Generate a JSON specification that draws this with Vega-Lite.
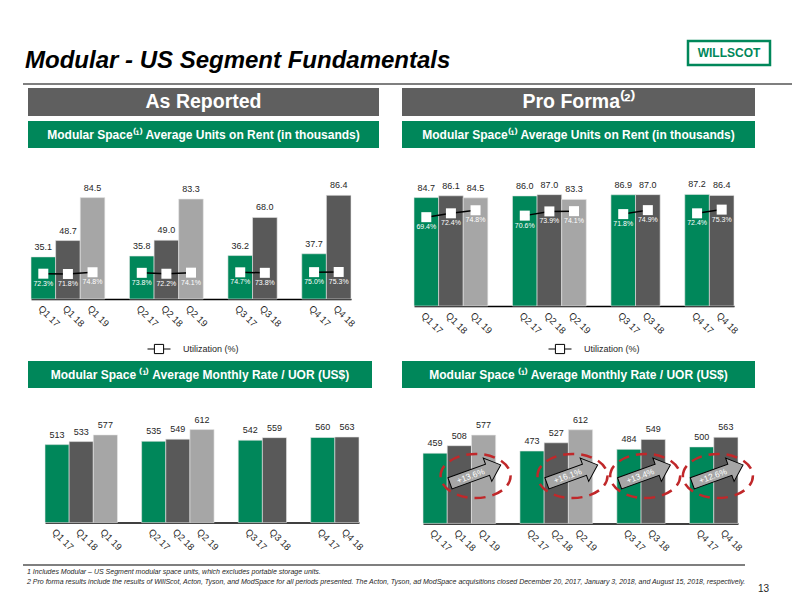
{
  "$schema": "https://vega.github.io/schema/vega-lite/v6.json",
  "background": "white",
  "padding": {"left": 23, "top": 39, "right": 0, "bottom": 0},
  "spacing": 8,
  "resolve": {"scale": {"fill": "independent"}, "legend": {"fill": "independent"}},
  "vconcat": [
    {
      "hconcat": [
        {
          "width": 663, "height": 34,
          "data": {"values": [{"t": "Modular - US Segment Fundamentals"}]},
          "mark": {"type": "text", "align": "left", "baseline": "alphabetic", "dy": 10, "dx": 2, "fontSize": 24, "fontWeight": "bold", "fontStyle": "italic", "color": "black"},
          "encoding": {
            "text": {"field": "t", "type": "nominal"},
            "x": {"datum": 0, "type": "quantitative", "scale": {"domain": [0, 1]}, "axis": null}
          }
        },
        {
          "width": 82, "height": 24,
          "view": {"fill": "white", "stroke": "#00875a", "strokeWidth": 2.5},
          "data": {"values": [{"t": "WILLSCOT"}]},
          "mark": {"type": "text", "fontSize": 12, "fontWeight": "bold", "color": "#00875a", "baseline": "middle"},
          "encoding": {"text": {"field": "t", "type": "nominal"}}
        }
      ],
      "spacing": 0
    },
    {
      "resolve": {"scale": {"fill": "independent"}, "legend": {"fill": "independent"}},
      "vconcat": [
        {
          "width": 769, "height": 2,
          "view": {"fill": "#7f7f7f", "stroke": null},
          "data": {"values": [{}]},
          "mark": {"type": "rect", "opacity": 0}
        },
        {
          "resolve": {"scale": {"fill": "independent"}, "legend": {"fill": "independent"}},
          "vconcat": [
            {
              "resolve": {"scale": {"fill": "independent"}, "legend": {"fill": "independent"}},
              "hconcat": [
                {
                  "width": 4, "height": 2,
                  "data": {"values": [{}]},
                  "mark": {"type": "rect", "opacity": 0}
                },
                {
                  "resolve": {"scale": {"fill": "independent"}, "legend": {"fill": "independent"}},
                  "hconcat": [
                    {
                      "resolve": {"scale": {"fill": "independent"}, "legend": {"fill": "independent"}},
                      "vconcat": [
                        {
                          "width": 351, "height": 28,
                          "view": {"fill": "#5f5f5f", "stroke": null},
                          "data": {"values": [{"t": "As Reported"}]},
                          "mark": {"type": "text", "color": "white", "fontWeight": "bold", "fontSize": 19.5, "baseline": "middle"},
                          "encoding": {"text": {"field": "t", "type": "nominal"}}
                        },
                        {
                          "resolve": {"scale": {"fill": "independent"}, "legend": {"fill": "independent"}},
                          "vconcat": [
                            {
                              "width": 351, "height": 27,
                              "view": {"fill": "#00875a", "stroke": null},
                              "data": {"values": [{"t": "Modular Space⁽¹⁾ Average Units on Rent (in thousands)"}]},
                              "mark": {"type": "text", "color": "white", "fontWeight": "bold", "fontSize": 12, "baseline": "middle"},
                              "encoding": {"text": {"field": "t", "type": "nominal"}}
                            },
                            {
                              "resolve": {"scale": {"fill": "independent"}, "legend": {"fill": "independent"}},
                              "vconcat": [
                                {
                                  "width": 351, "height": 120,
                                  "data": {"values": [
                                    {"slot": "Q1 17", "q": "Q1", "yr": "17", "units": 35.1, "util": 0.723},
                                    {"slot": "Q1 18", "q": "Q1", "yr": "18", "units": 48.7, "util": 0.718},
                                    {"slot": "Q1 19", "q": "Q1", "yr": "19", "units": 84.5, "util": 0.748},
                                    {"slot": "Q2 17", "q": "Q2", "yr": "17", "units": 35.8, "util": 0.738},
                                    {"slot": "Q2 18", "q": "Q2", "yr": "18", "units": 49.0, "util": 0.722},
                                    {"slot": "Q2 19", "q": "Q2", "yr": "19", "units": 83.3, "util": 0.741},
                                    {"slot": "Q3 17", "q": "Q3", "yr": "17", "units": 36.2, "util": 0.747},
                                    {"slot": "Q3 18", "q": "Q3", "yr": "18", "units": 68.0, "util": 0.738},
                                    {"slot": "Q4 17", "q": "Q4", "yr": "17", "units": 37.7, "util": 0.750},
                                    {"slot": "Q4 18", "q": "Q4", "yr": "18", "units": 86.4, "util": 0.753}
                                  ]},
                                  "encoding": {
                                    "x": {"field": "slot", "type": "nominal",
                                      "scale": {"type": "band", "domain": ["Q1 17","Q1 18","Q1 19","gap1","Q2 17","Q2 18","Q2 19","gap2","Q3 17","Q3 18","gap3","Q4 17","Q4 18"], "range": [3, 323], "paddingInner": 0, "paddingOuter": 0},
                                      "axis": {"title": null, "labelExpr": "indexof(datum.label, 'gap') == 0 ? '' : datum.label"}}
                                  },
                                  "layer": [
                                    {
                                      "mark": {"type": "bar", "stroke": "#e8e8e8", "strokeWidth": 0.6},
                                      "encoding": {
                                        "y": {"field": "units", "type": "quantitative", "scale": {"domain": [0, 100]}, "axis": null},
                                        "color": {"field": "yr", "type": "nominal", "scale": {"domain": ["17", "18", "19"], "range": ["#00875a", "#595959", "#a6a6a6"]}, "legend": null}
                                      }
                                    },
                                    {
                                      "mark": {"type": "text", "baseline": "middle", "dy": -10, "fontSize": 9, "color": "#262626"},
                                      "encoding": {
                                        "y": {"field": "units", "type": "quantitative", "scale": {"domain": [0, 100]}, "axis": null},
                                        "text": {"field": "units", "type": "quantitative", "format": ".1f"}
                                      }
                                    },
                                    {
                                      "layer": [
                                        {
                                          "mark": {"type": "line", "color": "black", "strokeWidth": 1.5},
                                          "encoding": {
                                            "y": {"field": "util", "type": "quantitative", "scale": {"domain": [0.28, 2.38], "zero": false}, "axis": null},
                                            "detail": {"field": "q", "type": "nominal"}
                                          }
                                        },
                                        {
                                          "mark": {"type": "point", "shape": "square", "size": 100, "filled": true, "opacity": 1},
                                          "encoding": {
                                            "y": {"field": "util", "type": "quantitative", "scale": {"domain": [0.28, 2.38], "zero": false}, "axis": null},
                                            "fill": {"datum": "Utilization (%)", "type": "nominal", "scale": {"range": ["white"]},
                                              "legend": {"title": null, "orient": "none", "legendX": 119, "legendY": 158, "symbolType": "M-1,0H-0.4M0.4,0H1M-0.4,-0.4H0.4V0.4H-0.4Z", "symbolSize": 529, "symbolStrokeColor": "black", "symbolStrokeWidth": 1, "labelFontSize": 9, "labelColor": "#262626", "labelOffset": 12}}
                                          }
                                        },
                                        {
                                          "mark": {"type": "text", "baseline": "middle", "dy": 10, "fontSize": 7, "color": "white"},
                                          "encoding": {
                                            "y": {"field": "util", "type": "quantitative", "scale": {"domain": [0.28, 2.38], "zero": false}, "axis": null},
                                            "text": {"field": "util", "type": "quantitative", "format": ".1%"}
                                          }
                                        }
                                      ]
                                    }
                                  ],
                                  "resolve": {"scale": {"y": "independent"}}
                                },
                                {
                                  "vconcat": [
                                    {
                                      "width": 344, "height": 27,
                                      "view": {"fill": "#00875a", "stroke": null},
                                      "data": {"values": [{"t": "Modular Space ⁽¹⁾ Average Monthly Rate / UOR (US$)"}]},
                                      "mark": {"type": "text", "color": "white", "fontWeight": "bold", "fontSize": 12, "baseline": "middle"},
                                      "encoding": {"text": {"field": "t", "type": "nominal"}}
                                    },
                                    {
                                      "width": 351, "height": 121.6,
                                      "data": {"values": [
                                        {"slot": "Q1 17", "yr": "17", "rate": 513},
                                        {"slot": "Q1 18", "yr": "18", "rate": 533},
                                        {"slot": "Q1 19", "yr": "19", "rate": 577},
                                        {"slot": "Q2 17", "yr": "17", "rate": 535},
                                        {"slot": "Q2 18", "yr": "18", "rate": 549},
                                        {"slot": "Q2 19", "yr": "19", "rate": 612},
                                        {"slot": "Q3 17", "yr": "17", "rate": 542},
                                        {"slot": "Q3 18", "yr": "18", "rate": 559},
                                        {"slot": "Q4 17", "yr": "17", "rate": 560},
                                        {"slot": "Q4 18", "yr": "18", "rate": 563}
                                      ]},
                                      "encoding": {
                                        "x": {"field": "slot", "type": "nominal",
                                          "scale": {"type": "band", "domain": ["Q1 17","Q1 18","Q1 19","gap1","Q2 17","Q2 18","Q2 19","gap2","Q3 17","Q3 18","gap3","Q4 17","Q4 18"], "range": [17, 331], "paddingInner": 0, "paddingOuter": 0},
                                          "axis": {"title": null, "labelExpr": "indexof(datum.label, 'gap') == 0 ? '' : datum.label"}},
                                        "y": {"field": "rate", "type": "quantitative", "scale": {"domain": [0, 800]}, "axis": null}
                                      },
                                      "layer": [
                                        {
                                          "mark": {"type": "bar", "stroke": "#e8e8e8", "strokeWidth": 0.6},
                                          "encoding": {
                                            "color": {"field": "yr", "type": "nominal", "scale": {"domain": ["17", "18", "19"], "range": ["#00875a", "#595959", "#a6a6a6"]}, "legend": null}
                                          }
                                        },
                                        {
                                          "mark": {"type": "text", "baseline": "middle", "dy": -10, "fontSize": 9, "color": "#262626"},
                                          "encoding": {"text": {"field": "rate", "type": "quantitative", "format": "d"}}
                                        }
                                      ]
                                    }
                                  ],
                                  "spacing": 13
                                }
                              ],
                              "spacing": 5
                            }
                          ],
                          "spacing": 31
                        }
                      ],
                      "spacing": 5
                    },
                    {
                      "resolve": {"scale": {"fill": "independent"}, "legend": {"fill": "independent"}},
                      "vconcat": [
                        {
                          "width": 353, "height": 28,
                          "view": {"fill": "#5f5f5f", "stroke": null},
                          "data": {"values": [{"t": "Pro Forma⁽²⁾"}]},
                          "mark": {"type": "text", "color": "white", "fontWeight": "bold", "fontSize": 19.5, "baseline": "middle"},
                          "encoding": {"text": {"field": "t", "type": "nominal"}}
                        },
                        {
                          "resolve": {"scale": {"fill": "independent"}, "legend": {"fill": "independent"}},
                          "vconcat": [
                            {
                              "width": 353, "height": 27,
                              "view": {"fill": "#00875a", "stroke": null},
                              "data": {"values": [{"t": "Modular Space⁽¹⁾ Average Units on Rent (in thousands)"}]},
                              "mark": {"type": "text", "color": "white", "fontWeight": "bold", "fontSize": 12, "baseline": "middle"},
                              "encoding": {"text": {"field": "t", "type": "nominal"}}
                            },
                            {
                              "resolve": {"scale": {"fill": "independent"}, "legend": {"fill": "independent"}},
                              "vconcat": [
                                {
                                  "width": 353, "height": 128,
                                  "data": {"values": [
                                    {"slot": "Q1 17", "q": "Q1", "yr": "17", "units": 84.7, "util": 0.694},
                                    {"slot": "Q1 18", "q": "Q1", "yr": "18", "units": 86.1, "util": 0.724},
                                    {"slot": "Q1 19", "q": "Q1", "yr": "19", "units": 84.5, "util": 0.748},
                                    {"slot": "Q2 17", "q": "Q2", "yr": "17", "units": 86.0, "util": 0.706},
                                    {"slot": "Q2 18", "q": "Q2", "yr": "18", "units": 87.0, "util": 0.739},
                                    {"slot": "Q2 19", "q": "Q2", "yr": "19", "units": 83.3, "util": 0.741},
                                    {"slot": "Q3 17", "q": "Q3", "yr": "17", "units": 86.9, "util": 0.718},
                                    {"slot": "Q3 18", "q": "Q3", "yr": "18", "units": 87.0, "util": 0.749},
                                    {"slot": "Q4 17", "q": "Q4", "yr": "17", "units": 87.2, "util": 0.724},
                                    {"slot": "Q4 18", "q": "Q4", "yr": "18", "units": 86.4, "util": 0.753}
                                  ]},
                                  "encoding": {
                                    "x": {"field": "slot", "type": "nominal",
                                      "scale": {"type": "band", "domain": ["Q1 17","Q1 18","Q1 19","gap1","Q2 17","Q2 18","Q2 19","gap2","Q3 17","Q3 18","gap3","Q4 17","Q4 18"], "range": [12, 332], "paddingInner": 0, "paddingOuter": 0},
                                      "axis": {"title": null, "labelExpr": "indexof(datum.label, 'gap') == 0 ? '' : datum.label"}}
                                  },
                                  "layer": [
                                    {
                                      "mark": {"type": "bar", "stroke": "#e8e8e8", "strokeWidth": 0.6},
                                      "encoding": {
                                        "y": {"field": "units", "type": "quantitative", "scale": {"domain": [0, 100]}, "axis": null},
                                        "color": {"field": "yr", "type": "nominal", "scale": {"domain": ["17", "18", "19"], "range": ["#00875a", "#595959", "#a6a6a6"]}, "legend": null}
                                      }
                                    },
                                    {
                                      "mark": {"type": "text", "baseline": "middle", "dy": -10, "fontSize": 9, "color": "#262626"},
                                      "encoding": {
                                        "y": {"field": "units", "type": "quantitative", "scale": {"domain": [0, 100]}, "axis": null},
                                        "text": {"field": "units", "type": "quantitative", "format": ".1f"}
                                      }
                                    },
                                    {
                                      "layer": [
                                        {
                                          "mark": {"type": "line", "color": "black", "strokeWidth": 1.5},
                                          "encoding": {
                                            "y": {"field": "util", "type": "quantitative", "scale": {"domain": [0, 1]}, "axis": null},
                                            "detail": {"field": "q", "type": "nominal"}
                                          }
                                        },
                                        {
                                          "mark": {"type": "point", "shape": "square", "size": 100, "filled": true, "opacity": 1},
                                          "encoding": {
                                            "y": {"field": "util", "type": "quantitative", "scale": {"domain": [0, 1]}, "axis": null},
                                            "fill": {"datum": "Utilization (%)", "type": "nominal", "scale": {"range": ["white"]},
                                              "legend": {"title": null, "orient": "none", "legendX": 146, "legendY": 159, "symbolType": "M-1,0H-0.4M0.4,0H1M-0.4,-0.4H0.4V0.4H-0.4Z", "symbolSize": 529, "symbolStrokeColor": "black", "symbolStrokeWidth": 1, "labelFontSize": 9, "labelColor": "#262626", "labelOffset": 12}}
                                          }
                                        },
                                        {
                                          "mark": {"type": "text", "baseline": "middle", "dy": 10, "fontSize": 7, "color": "white"},
                                          "encoding": {
                                            "y": {"field": "util", "type": "quantitative", "scale": {"domain": [0, 1]}, "axis": null},
                                            "text": {"field": "util", "type": "quantitative", "format": ".1%"}
                                          }
                                        }
                                      ]
                                    }
                                  ],
                                  "resolve": {"scale": {"y": "independent"}}
                                },
                                {
                                  "vconcat": [
                                    {
                                      "width": 353, "height": 27,
                                      "view": {"fill": "#00875a", "stroke": null},
                                      "data": {"values": [{"t": "Modular Space ⁽¹⁾ Average Monthly Rate / UOR (US$)"}]},
                                      "mark": {"type": "text", "color": "white", "fontWeight": "bold", "fontSize": 12, "baseline": "middle"},
                                      "encoding": {"text": {"field": "t", "type": "nominal"}}
                                    },
                                    {
                                      "width": 353, "height": 122.4,
                                      "encoding": {
                                        "x": {"field": "slot", "type": "nominal",
                                          "scale": {"type": "band", "domain": ["Q1 17","Q1 18","Q1 19","gap1","Q2 17","Q2 18","Q2 19","gap2","Q3 17","Q3 18","gap3","Q4 17","Q4 18"], "range": [21, 336], "paddingInner": 0, "paddingOuter": 0},
                                          "axis": {"title": null, "labelExpr": "indexof(datum.label, 'gap') == 0 ? '' : datum.label"}}
                                      },
                                      "layer": [
                                        {
                                          "data": {"name": "rateR"},
                                          "mark": {"type": "bar", "stroke": "#e8e8e8", "strokeWidth": 0.6},
                                          "encoding": {
                                            "y": {"field": "rate", "type": "quantitative", "scale": {"domain": [0, 800]}, "axis": null},
                                            "color": {"field": "yr", "type": "nominal", "scale": {"domain": ["17", "18", "19"], "range": ["#00875a", "#595959", "#a6a6a6"]}, "legend": null}
                                          }
                                        },
                                        {
                                          "data": {"name": "rateR"},
                                          "mark": {"type": "text", "baseline": "middle", "dy": -10, "fontSize": 9, "color": "#262626"},
                                          "encoding": {
                                            "y": {"field": "rate", "type": "quantitative", "scale": {"domain": [0, 800]}, "axis": null},
                                            "text": {"field": "rate", "type": "quantitative", "format": "d"}
                                          }
                                        },
                                        {
                                          "data": {"name": "growth"},
                                          "mark": {"type": "point", "shape": "M-1,0C-1,-0.348 -0.552,-0.63 0,-0.63C0.552,-0.63 1,-0.348 1,0C1,0.348 0.552,0.63 0,0.63C-0.552,0.63 -1,0.348 -1,0Z", "size": 4900, "filled": false, "stroke": "#c0282a", "strokeWidth": 2.5, "strokeDash": [11, 7], "opacity": 1},
                                          "encoding": {
                                            "x": {"field": "slot", "type": "nominal", "bandPosition": 0.17},
                                            "y": {"datum": 310, "type": "quantitative"}
                                          }
                                        },
                                        {
                                          "data": {"name": "growth"},
                                          "mark": {"type": "point", "shape": "M-1,-0.22L0.48,-0.22L0.48,-0.46L1,0L0.48,0.46L0.48,0.22L-1,0.22Z", "size": 2916, "filled": true, "fill": "#a6a6a6", "stroke": "black", "strokeWidth": 1, "angle": -20, "opacity": 1},
                                          "encoding": {
                                            "x": {"field": "slot", "type": "nominal", "bandPosition": 0.16},
                                            "y": {"datum": 322, "type": "quantitative"}
                                          }
                                        },
                                        {
                                          "data": {"name": "growth"},
                                          "mark": {"type": "text", "angle": -20, "color": "white", "fontSize": 8.5, "dx": -5, "baseline": "middle"},
                                          "encoding": {
                                            "x": {"field": "slot", "type": "nominal", "bandPosition": 0.16},
                                            "y": {"datum": 322, "type": "quantitative"},
                                            "text": {"field": "pct", "type": "nominal"}
                                          }
                                        }
                                      ]
                                    }
                                  ],
                                  "spacing": 13
                                }
                              ],
                              "spacing": 5
                            }
                          ],
                          "spacing": 30
                        }
                      ],
                      "spacing": 5
                    }
                  ],
                  "spacing": 23
                }
              ],
              "spacing": 1
            },
            {
              "hconcat": [
                {
                  "width": 722, "height": 2,
                  "view": {"fill": "#7f7f7f", "stroke": null},
                  "data": {"values": [{}]},
                  "mark": {"type": "rect", "opacity": 0},
                  "title": {
                    "text": "1 Includes Modular – US Segment modular space units, which excludes portable storage units.",
                    "subtitle": "2 Pro forma results include the results of WillScot, Acton, Tyson, and ModSpace for all periods presented. The Acton, Tyson, ad ModSpace acquisitions closed December 20, 2017, January 3, 2018, and August 15, 2018, respectively.",
                    "orient": "bottom", "anchor": "start", "offset": 2, "dx": 4,
                    "fontSize": 7, "fontStyle": "italic", "fontWeight": "normal", "color": "#262626",
                    "subtitleFontSize": 7, "subtitleFontStyle": "italic", "subtitleColor": "#262626", "subtitlePadding": 2.5
                  }
                },
                {
                  "width": 23, "height": 2,
                  "data": {"values": [{}]},
                  "mark": {"type": "rect", "opacity": 0},
                  "title": {"text": "13", "orient": "bottom", "anchor": "end", "offset": 18, "fontSize": 10, "fontWeight": "normal", "color": "#262626"}
                }
              ],
              "spacing": 0
            }
          ],
          "spacing": 11
        }
      ],
      "spacing": 3
    }
  ],
  "datasets": {
    "rateR": [
      {"slot": "Q1 17", "yr": "17", "rate": 459},
      {"slot": "Q1 18", "yr": "18", "rate": 508},
      {"slot": "Q1 19", "yr": "19", "rate": 577},
      {"slot": "Q2 17", "yr": "17", "rate": 473},
      {"slot": "Q2 18", "yr": "18", "rate": 527},
      {"slot": "Q2 19", "yr": "19", "rate": 612},
      {"slot": "Q3 17", "yr": "17", "rate": 484},
      {"slot": "Q3 18", "yr": "18", "rate": 549},
      {"slot": "Q4 17", "yr": "17", "rate": 500},
      {"slot": "Q4 18", "yr": "18", "rate": 563}
    ],
    "growth": [
      {"slot": "Q1 19", "pct": "+13.6%"},
      {"slot": "Q2 19", "pct": "+16.1%"},
      {"slot": "Q3 18", "pct": "+13.4%"},
      {"slot": "Q4 18", "pct": "+12.6%"}
    ]
  },
  "config": {
    "view": {"stroke": null},
    "font": "Liberation Sans",
    "axisX": {"ticks": false, "domainColor": "black", "domainWidth": 1.5, "labelAngle": 45, "labelFontSize": 9.5, "labelColor": "#262626", "labelPadding": 4, "labelOverlap": false}
  }
}
